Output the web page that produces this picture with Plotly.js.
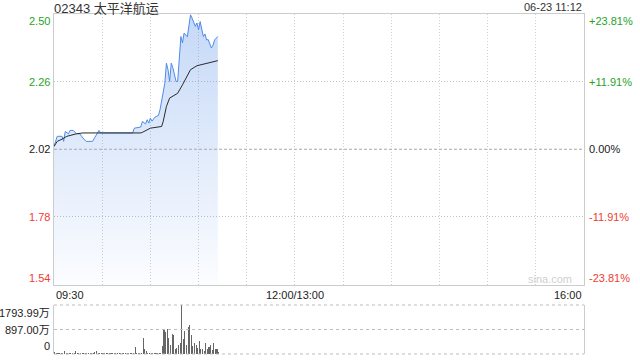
<!DOCTYPE html>
<html>
<head>
<meta charset="utf-8">
<script src="https://cdn.plot.ly/plotly-3.0.1.min.js"></script>
<style>html,body{margin:0;padding:0;background:#fff;}#chart{width:640px;height:360px;}</style>
</head>
<body>
<div id="chart"></div>
<script>
// ---- data ----
const stockTitle = '02343 太平洋航运';
const stampText = '06-23 11:12';
const prevClose = 2.02;
const maxPct = 23.81;
const pctSteps = [1, 0.5, 0, -0.5, -1];
const leftLabels = ['2.50', '2.26', '2.02', '1.78', '1.54'];
const rightLabels = ['+23.81%', '+11.91%', '0.00%', '-11.91%', '-23.81%'];
const labelColors = ['#1fa31f', '#1fa31f', '#222222', '#f03c32', '#f03c32'];

const priceTimes = ['09:30','09:32','09:35','09:36','09:37','09:39','09:40','09:42','09:44','09:46','09:48','09:50','09:54','09:56','09:58','09:59',
  '10:19','10:20','10:24','10:25','10:27','10:28','10:29','10:30','10:31','10:33','10:35','10:36','10:38','10:39','10:40','10:41','10:42','10:43','10:44','10:46','10:47','10:48','10:49','10:50','10:51','10:53','10:54','10:55','10:56','10:58','10:59',
  '11:00','11:01','11:02','11:03','11:04','11:05','11:06','11:08','11:09','11:10','11:11','11:12'];
const prices = [2.030,2.066,2.066,2.048,2.083,2.075,2.087,2.087,2.075,2.075,2.060,2.048,2.048,2.066,2.087,2.078,
  2.078,2.095,2.099,2.119,2.110,2.125,2.113,2.131,2.120,2.135,2.140,2.160,2.231,2.255,2.326,2.303,2.261,2.326,2.310,2.261,2.261,2.362,2.421,2.398,2.433,2.420,2.469,2.498,2.486,2.457,2.469,
  2.445,2.474,2.445,2.421,2.430,2.409,2.410,2.380,2.390,2.409,2.415,2.421];

const avgTimes = ['09:30','09:32','09:35','09:38','09:44','09:48','10:24','10:25','10:30','10:37','10:38','10:40','10:42','10:45','10:47','10:50','10:52','10:55','10:59','11:05','11:12'];
const avgPrices = [2.030,2.048,2.056,2.066,2.075,2.078,2.078,2.080,2.095,2.101,2.119,2.172,2.202,2.214,2.219,2.249,2.273,2.303,2.317,2.326,2.335];

// volume per minute starting 09:30 (unit: 万)
const volStart = '09:30';
const volumes = [60,30,50,20,40,30,100,40,30,50,20,30,40,100,30,20,40,30,20,30,40,20,30,20,40,60,120,40,50,30,
  20,30,20,30,20,20,30,20,20,30,20,20,30,20,20,30,20,40,20,30,
  258,30,20,30,40,590,172,98,50,30,20,40,20,30,20,50,40,295,922,810,910,590,344,725,688,197,221,320,393,1793.99,
  565,835,344,983,1057,688,295,405,320,221,467,172,172,100,405,172,258,320,135,405,197,172,74];
const volTicks = [1793.99, 897.00, 0];
const volLabels = ['1793.99万', '897.00万', '0'];

const xLabelTimes = ['09:30', '12:00', '16:00'];
const xLabels = ['09:30', '12:00/13:00', '16:00'];
const gridTimes = ['10:00','10:30','11:00','11:30','12:00','13:30','14:00','14:30','15:00','15:30'];

// ---- helpers ----
function tm(t) {
  const [h, m] = t.split(':').map(Number);
  const mins = h * 60 + m;
  if (mins <= 12 * 60) return mins - (9 * 60 + 30);
  return 150 + (mins - 13 * 60);
}
const levels = pctSteps.map(k => prevClose * (1 + maxPct / 100 * k));
const yMin = Math.min(...levels), yMax = Math.max(...levels);
const FONT = '"Liberation Sans", Arial, "Noto Sans CJK SC", sans-serif';
const mainBottom = 0.2044, volTop = 0.1441;
const xEnd = tm('16:00');

const px = priceTimes.map(tm);
const ax = avgTimes.map(tm);
const vx = volumes.map((v, i) => tm(volStart) + i + 0.5);

const traces = [
  {
    x: px, y: prices, type: 'scatter', mode: 'lines', xaxis: 'x', yaxis: 'y',
    line: {color: '#4f8ae8', width: 1},
    fill: 'tozeroy',
    fillgradient: {type: 'vertical', start: yMin, stop: yMax,
      colorscale: [[0, 'rgba(74,134,232,0.02)'], [1, 'rgba(74,134,232,0.32)']]},
    hoverinfo: 'skip'
  },
  {
    x: ax, y: avgPrices, type: 'scatter', mode: 'lines', xaxis: 'x', yaxis: 'y',
    line: {color: '#2a2a2a', width: 1}, hoverinfo: 'skip'
  },
  {
    x: vx, y: volumes, type: 'bar', xaxis: 'x2', yaxis: 'y2',
    marker: {color: '#666666', line: {width: 0}}, width: 0.65, hoverinfo: 'skip'
  }
];

const annotations = [];
annotations.push({xref: 'paper', yref: 'paper', x: 0, y: 1, xanchor: 'left', yanchor: 'top', yshift: 14, xshift: -1, borderpad: 0,
  text: stockTitle, showarrow: false, font: {family: FONT, size: 13, color: '#333'}});
annotations.push({xref: 'paper', yref: 'paper', x: 1, y: 1, xanchor: 'right', yanchor: 'bottom', yshift: -1,
  text: stampText, showarrow: false, font: {family: FONT, size: 11, color: '#333'}});
levels.forEach((lv, i) => {
  const ya = i === 0 ? 'top' : (i === levels.length - 1 ? 'bottom' : 'middle');
  const ys = i === 0 ? 1 : (i === levels.length - 1 ? -1 : 0);
  annotations.push({xref: 'paper', yref: 'y', x: 0, y: lv, xanchor: 'right', yanchor: ya, xshift: -2, yshift: ys,
    text: leftLabels[i], showarrow: false, font: {family: FONT, size: 11, color: labelColors[i]}});
  annotations.push({xref: 'paper', yref: 'y', x: 1, y: lv, xanchor: 'left', yanchor: ya, xshift: 3, yshift: ys,
    text: rightLabels[i], showarrow: false, font: {family: FONT, size: 11, color: labelColors[i]}});
});
volTicks.forEach((v, i) => {
  const ya = i === 0 ? 'top' : (i === volTicks.length - 1 ? 'bottom' : 'middle');
  annotations.push({xref: 'paper', yref: 'y2', x: 0, y: v, xanchor: 'right', yanchor: ya, xshift: -2,
    text: volLabels[i], showarrow: false, font: {family: FONT, size: 11, color: '#222'}});
});
xLabelTimes.forEach((t, i) => {
  const anc = i === 0 ? 'left' : (i === xLabelTimes.length - 1 ? 'right' : 'center');
  annotations.push({xref: 'x', yref: 'paper', x: tm(t), y: mainBottom, xanchor: anc, yanchor: 'top', yshift: -2,
    text: xLabels[i], showarrow: false, font: {family: FONT, size: 11, color: '#222'}});
});
annotations.push({xref: 'paper', yref: 'y', x: 1, y: yMin, xanchor: 'right', yanchor: 'bottom', xshift: -10, yshift: -2,
  text: 'sina.com', showarrow: false, font: {family: FONT, size: 11, color: '#d0d0d0'}});

const shapes = [
  {type: 'line', xref: 'paper', yref: 'y', x0: 0, x1: 1, y0: prevClose, y1: prevClose, layer: 'above',
    line: {color: '#a8a8a8', width: 1, dash: '3px,2px'}},
];
volTicks.forEach(v => shapes.push({type: 'line', xref: 'paper', yref: 'paper',
  x0: 0, x1: 1, y0: volTop * v / volTicks[0], y1: volTop * v / volTicks[0], layer: 'above',
  line: {color: '#bdbdbd', width: 1, dash: 'dot'}}));

const layout = {
  width: 640, height: 360,
  margin: {l: 54, r: 56, t: 14, b: 6, pad: 0},
  paper_bgcolor: '#fff', plot_bgcolor: 'rgba(0,0,0,0)',
  showlegend: false, bargap: 0,
  font: {family: FONT, size: 11, color: '#222'},
  xaxis: {domain: [0, 1], range: [0, xEnd], anchor: 'y', tickvals: gridTimes.map(tm), showticklabels: false, ticks: '',
    showgrid: true, gridcolor: '#cfcfcf', griddash: '1px,2px', gridwidth: 1, zeroline: false,
    showline: true, mirror: true, linecolor: '#cccccc', linewidth: 1, fixedrange: true},
  yaxis: {domain: [mainBottom, 1], range: [yMin, yMax], anchor: 'x', tickvals: levels.slice(1, -1).filter(v => Math.abs(v - prevClose) > 1e-6),
    showticklabels: false, ticks: '', showgrid: true, gridcolor: '#c4c4c4', griddash: '1px,2px', gridwidth: 1, zeroline: false,
    showline: true, mirror: true, linecolor: '#cccccc', linewidth: 1, fixedrange: true},
  xaxis2: {domain: [0, 1], range: [0, xEnd], anchor: 'y2', showgrid: false, showticklabels: false, ticks: '', zeroline: false, showline: false, fixedrange: true},
  yaxis2: {domain: [0, volTop], range: [0, volTicks[0]], anchor: 'x2', showgrid: false,
    showticklabels: false, ticks: '', zeroline: false,
    showline: true, mirror: true, linecolor: '#cccccc', linewidth: 1, fixedrange: true},
  annotations: annotations,
  shapes: shapes
};

Plotly.newPlot('chart', traces, layout, {displayModeBar: false, staticPlot: true});
</script>
</body>
</html>
